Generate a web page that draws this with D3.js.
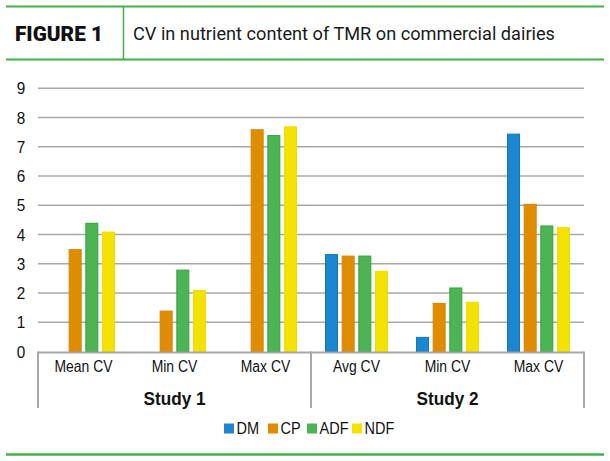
<!DOCTYPE html>
<html><head><meta charset="utf-8">
<script src="https://cdn.jsdelivr.net/npm/d3@7"></script>
<style>body{margin:0;background:#fff}svg{display:block}</style>
</head><body>
<svg id="c" width="610" height="461"></svg>
<script>
const groups = ["Study 1","Study 2"];
const categories = ["Mean CV","Min CV","Max CV","Avg CV","Min CV","Max CV"];
const series = ["DM","CP","ADF","NDF"];
const colors = ["#1a87d0","#e08c00","#4db453","#f3e100"];
const strokes = ["#1476bb","#d98300","#35a23e","#f0dc00"];
const DM  = [null,null,null,3.33,0.50,7.45];
const CP  = [3.5,1.4,7.6,3.28,1.66,5.05];
const ADF = [4.4,2.8,7.4,3.28,2.19,4.31];
const NDF = [4.1,2.1,7.7,2.76,1.70,4.25];
const values = [DM,CP,ADF,NDF];
const yTicks = [0,1,2,3,4,5,6,7,8,9];

const svg = d3.select("#c");
const green = "#43b049";
function squeeze(sel, ratio){ sel.each(function(){ const w=this.getComputedTextLength(); d3.select(this).attr("textLength",w*ratio).attr("lengthAdjust","spacingAndGlyphs"); }); }
// header
svg.append("line").attr("x1",6).attr("x2",604).attr("y1",6.5).attr("y2",6.5).attr("stroke",green).attr("stroke-width",2);
svg.append("line").attr("x1",6).attr("x2",604).attr("y1",59.5).attr("y2",59.5).attr("stroke",green).attr("stroke-width",2);
svg.append("line").attr("x1",123.5).attr("x2",123.5).attr("y1",6).attr("y2",60).attr("stroke",green).attr("stroke-width",1.5);
svg.append("text").attr("x",15).attr("y",40.5).text("FIGURE 1")
  .attr("font-family","Roboto, 'Liberation Sans', sans-serif").attr("font-weight",900).attr("font-size",20).attr("fill","#111")
  .attr("textLength",88).attr("lengthAdjust","spacingAndGlyphs");
svg.append("text").attr("x",133).attr("y",40).text("CV in nutrient content of TMR on commercial dairies")
  .attr("font-family","Roboto, sans-serif").attr("font-size",18).attr("fill","#1a1a1a")
  .attr("textLength",422).attr("lengthAdjust","spacingAndGlyphs");
svg.append("line").attr("x1",6).attr("x2",604).attr("y1",454.5).attr("y2",454.5).attr("stroke",green).attr("stroke-width",2.5);

const L=38, R=584, T=88.3, B=351.5;
const y = d3.scaleLinear().domain([0,9]).range([B,T]);
const x0 = d3.scaleBand().domain(d3.range(categories.length)).range([L,R]).paddingInner(0.268).paddingOuter(0.134);
const x1 = d3.scaleBand().domain(d3.range(series.length)).range([0,x0.bandwidth()]).paddingInner(0.22).paddingOuter(0.11);

// gridlines
svg.append("g").selectAll("line").data(yTicks.filter(d=>d>0)).join("line")
  .attr("x1",L).attr("x2",R).attr("y1",d=>y(d)).attr("y2",d=>y(d))
  .attr("stroke","#a8a8a8").attr("stroke-width",1.5);
// y labels
const yl = svg.append("g").selectAll("text").data(yTicks).join("text")
  .attr("x",21).attr("y",d=>y(d)).attr("dy","0.36em").attr("text-anchor","middle")
  .attr("font-family","'Liberation Sans', Arial, sans-serif").attr("font-size",17).attr("fill","#111").text(d=>d);
squeeze(yl, 0.9);

// bars
const g = svg.append("g");
categories.forEach((c,i)=>{
  series.forEach((s,j)=>{
    const v = values[j][i];
    if(v==null) return;
    g.append("rect").attr("x",x0(i)+x1(j)+0.5).attr("width",x1.bandwidth()-1)
      .attr("y",y(v)+0.5).attr("height",y(0)-y(v)-0.5)
      .attr("fill",colors[j]).attr("stroke",strokes[j]).attr("stroke-width",1);
  });
});

// axis box
const ax = svg.append("g").attr("stroke","#a8a8a8").attr("stroke-width",2).attr("fill","none");
ax.append("line").attr("x1",L).attr("x2",R).attr("y1",B+1).attr("y2",B+1);
const xb = d3.scaleLinear().domain([0,categories.length]).range([L,R]);
[0,3,6].forEach(k=>{
  ax.append("line").attr("x1",xb(k)).attr("x2",xb(k)).attr("y1",B).attr("y2",408);
});
// category labels
const cl = svg.append("g").selectAll("text").data(categories).join("text")
  .attr("x",(d,i)=>x0(i)+x0.bandwidth()/2).attr("y",366).attr("dy","0.36em").attr("text-anchor","middle")
  .attr("font-family","'Liberation Sans', Arial, sans-serif").attr("font-size",16).attr("fill","#111").text(d=>d);
squeeze(cl, 0.87);
// group labels
svg.append("g").selectAll("text").data(groups).join("text")
  .attr("x",(d,i)=>(xb(i*3)+xb(i*3+3))/2).attr("y",398).attr("dy","0.36em").attr("text-anchor","middle")
  .attr("font-family","'Liberation Sans', Arial, sans-serif").attr("font-weight","bold").attr("font-size",19).attr("fill","#111")
  .attr("textLength",62).attr("lengthAdjust","spacingAndGlyphs").text(d=>d);

// legend
const legX = [224,268,307,352];
const lg = svg.append("g");
series.forEach((s,j)=>{
  lg.append("rect").attr("x",legX[j]).attr("y",423.5).attr("width",10).attr("height",10).attr("fill",colors[j]);
  const t = lg.append("text").attr("x",legX[j]+12.5).attr("y",428.5).attr("dy","0.36em")
    .attr("font-family","'Liberation Sans', Arial, sans-serif").attr("font-size",16.5).attr("fill","#111").text(s);
  squeeze(t, 0.88);
});
</script>
</body></html>
